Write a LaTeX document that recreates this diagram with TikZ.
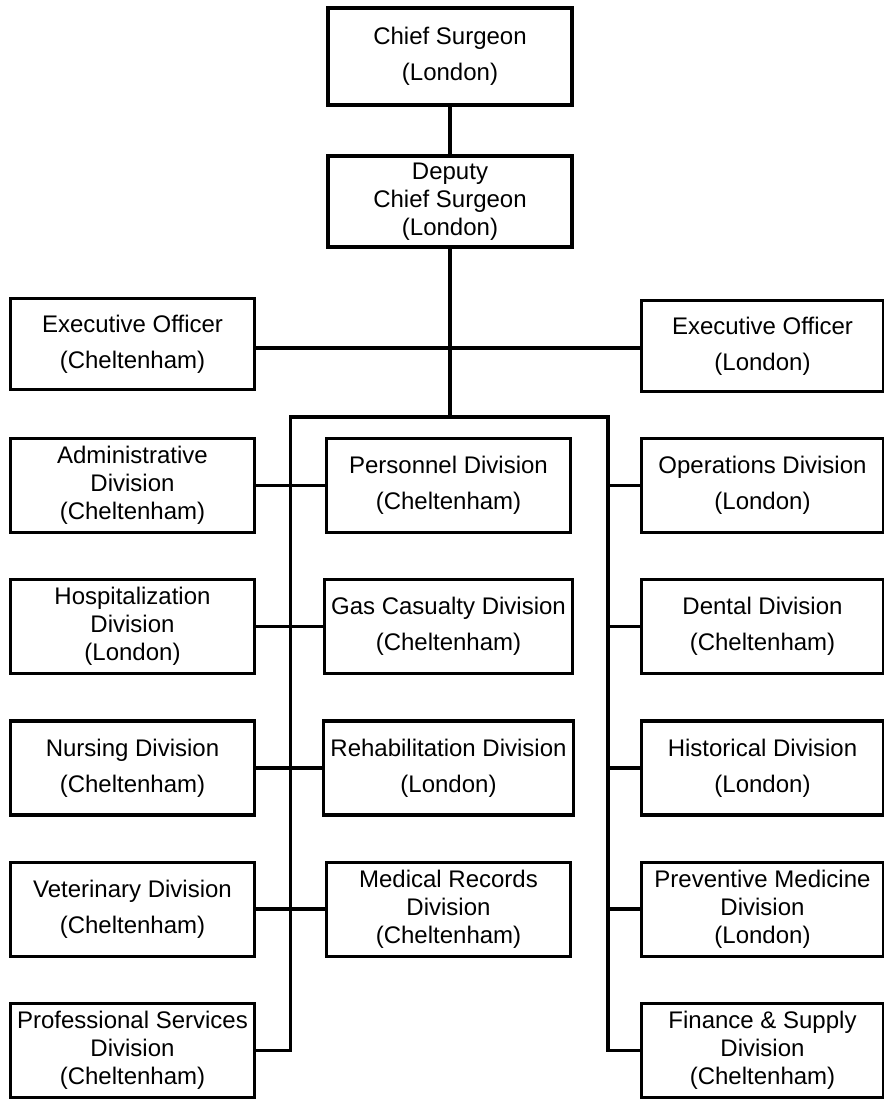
\documentclass[tikz,border=0pt]{standalone}
\usepackage{fontspec}
\setmainfont{Liberation Sans}
\usetikzlibrary{positioning}

\begin{document}
\begin{tikzpicture}[orgbox/.style={rectangle,
					line width=1.6pt,
					minimum width=122pt,
					minimum height=47pt,
					align=center,
					draw=black,
					fill=white,
					font=\fontsize{12}{14}\selectfont},
					orglink/.style={line width=1.7pt,
					black}
					]

% page size of the chart
\useasboundingbox (0pt,0pt) rectangle (442pt,-549.5pt);

% head nodes
\node[orgbox, minimum height=48.5pt] (chief) at (225pt,-28.25pt) {Chief Surgeon\\[4pt](London)};
\node[orgbox, minimum height=45.5pt] (deputy) [below of = chief, node distance=72.5pt] {Deputy\\Chief Surgeon\\(London)};

% executive officers
\node[orgbox, minimum height=45.5pt] (exec1) at (66.25pt,-172pt) {Executive Officer\\[4pt](Cheltenham)};
\node[orgbox, minimum height=45.5pt, minimum width=121pt] (exec2) [right of = exec1, node distance=315pt, yshift=-1pt] {Executive Officer\\[4pt](London)};

% left column
\node[orgbox]  (adm) at (66.25pt,-242.75pt) {Administrative\\Division\\(Cheltenham)};
\node[orgbox]  (hosp) [below of = adm, node distance=70.6pt] {Hospitalization\\Division\\(London)};
\node[orgbox]  (nurs) [below of = hosp, node distance=70.6pt] {Nursing Division\\[4pt](Cheltenham)};
\node[orgbox]  (vet) [below of = nurs, node distance=70.6pt] {Veterinary Division\\[4pt](Cheltenham)};
\node[orgbox]  (prof) [below of = vet, node distance=70.6pt] {Professional Services\\Division\\(Cheltenham)};

% middle column
\node[orgbox]  (pers) [right of = adm, node distance=158pt] {Personnel Division\\[4pt](Cheltenham)};
\node[orgbox]  (gas) [right of = hosp, node distance=158pt] {Gas Casualty Division\\[4pt](Cheltenham)};
\node[orgbox]  (rehab) [right of = nurs, node distance=158pt] {Rehabilitation Division\\[4pt](London)};
\node[orgbox]  (medrec) [right of = vet, node distance=158pt] {Medical Records\\Division\\(Cheltenham)};

% right column
\node[orgbox, minimum width=121pt]  (ops) [right of = pers, node distance=157pt] {Operations Division\\[4pt](London)};
\node[orgbox, minimum width=121pt]  (dent) [below of = ops, node distance=70.6pt] {Dental Division\\[4pt](Cheltenham)};
\node[orgbox, minimum width=121pt]  (hist) [below of = dent, node distance=70.6pt] {Historical Division\\[4pt](London)};
\node[orgbox, minimum width=121pt]  (prev) [below of = hist, node distance=70.6pt] {Preventive Medicine\\Division\\(London)};
\node[orgbox, minimum width=121pt]  (fin) [below of = prev, node distance=70.6pt] {Finance \& Supply\\Division\\(Cheltenham)};

% bus corners
\coordinate (ltop) at (145.25pt,-208.5pt);
\coordinate (rtop) at (304pt,-208.5pt);

% head lines
\path[orglink] (chief) edge (deputy);
\path[orglink] (exec1.east |- 0,-174pt) edge (exec2.west |- 0,-174pt);
\draw[orglink] (deputy.south) -- (deputy.south |- ltop);

% trunks
\draw[orglink] (prof.east) -| (ltop) -- (rtop) |- (fin.west);

% left to middle
\path[orglink] (adm.east) edge (pers.west);
\path[orglink] (hosp.east) edge (gas.west);
\path[orglink] (nurs.east) edge (rehab.west);
\path[orglink] (vet.east) edge (medrec.west);

% right trunk to right column
\path[orglink] (rtop |- ops.west) edge (ops.west);
\path[orglink] (rtop |- dent.west) edge (dent.west);
\path[orglink] (rtop |- hist.west) edge (hist.west);
\path[orglink] (rtop |- prev.west) edge (prev.west);

\end{tikzpicture}
\end{document}
